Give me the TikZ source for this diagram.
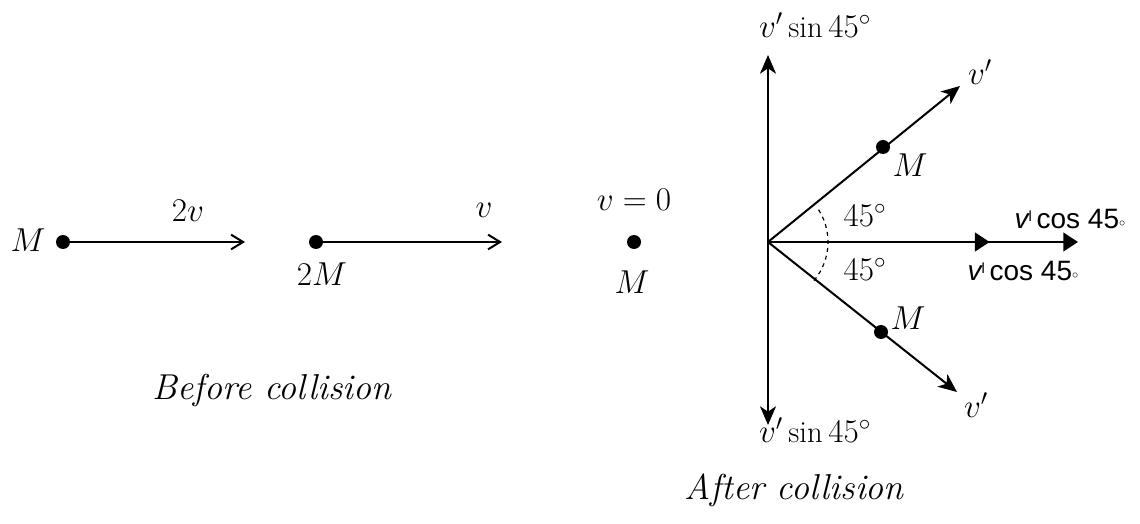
\documentclass[tikz,border=0pt]{standalone}
\usepackage{fontspec}
\newfontfamily\labsans{Liberation Sans}
\usetikzlibrary{arrows.meta,decorations.markings}
\tikzset{
  dot/.style={circle,fill=black,inner sep=0pt,minimum size=10.5pt},
  lbl/.style={inner sep=0pt,font=\fontsize{23}{27}\selectfont},
  slab/.style={inner sep=0pt,font=\labsans\fontsize{21}{25}\selectfont},
  captxt/.style={inner sep=0pt,font=\fontsize{27}{32}\selectfont\itshape},
  vec/.style={line width=1.5pt,-{Straight Barb[length=9pt,width=11pt,line width=1.5pt]}},
  rvec/.style={line width=1.5pt,-{Stealth[length=14pt,width=12pt,inset=4pt]}},
  bvec/.style={line width=1.5pt,{Stealth[length=14pt,width=12pt,inset=4pt]}-{Stealth[length=14pt,width=12pt,inset=4pt]}},
}
\newcommand{\vcos}{{\itshape v}\raisebox{0.5ex}{\fontsize{11}{11}\selectfont l}\,cos 45\raisebox{0.15ex}{\fontsize{9}{9}\selectfont$\circ$}}
\begin{document}
\begin{tikzpicture}[x=0.75pt,y=-0.75pt]
\useasboundingbox (0,0) rectangle (1140,524);
% before collision
\node[dot] (m1) at (63,242) {};
\coordinate (a1) at (245,242);
\draw[vec] (m1.center) -- (a1);
\node[lbl] (m1l) at (28,240) {$M$};
\node[lbl] (v1l) at (188,211) {$2v$};
\node[dot] (m2) at (316,242) {};
\coordinate (a2) at (502,242);
\draw[vec] (m2.center) -- (a2);
\node[lbl] (m2l) at (322,274) {$2M$};
\node[lbl] (v2l) at (484,210) {$v$};
\node[dot] (m3) at (634,242) {};
\node[lbl] (v3l) at (634,200) {$v=0$};
\node[lbl] (m3l) at (632,282) {$M$};
\node[captxt] (bc) at (272,390) {Before collision};
% after collision
\coordinate (o) at (768,242);
\coordinate (top) at (768,55);
\coordinate (bot) at (768,425);
\draw[bvec] (top) -- (bot);
\node[lbl] (st) at (815,25) {$v'\sin 45^\circ$};
\node[lbl] (sb) at (815,430) {$v'\sin 45^\circ$};
\coordinate (ut) at (960,86);
\coordinate (lt) at (957,392);
\draw[rvec] (o) -- (ut);
\draw[rvec] (o) -- (lt);
\node[dot] (mu) at (883,147) {};
\node[dot] (md) at (881,332) {};
\node[lbl] (mul) at (910,165) {$M$};
\node[lbl] (mdl) at (908,318) {$M$};
\node[lbl] (vul) at (980,72) {$v'$};
\node[lbl] (vdl) at (976,405) {$v'$};
\coordinate (he) at (1078,242);
\draw[line width=1.5pt,
  postaction={decorate,decoration={markings,mark=at position 0.715 with {\arrow{Triangle[length=11pt,width=14pt]}}}},
  -{Triangle[length=11pt,width=14pt]}] (o) -- (he);
\draw[dashed,line width=0.9pt] (o) ++(40:60) arc[start angle=40,end angle=-36,radius=60];
\node[lbl] (a45u) at (865,215) {$45^\circ$};
\node[lbl] (a45d) at (865,269) {$45^\circ$};
\node[slab] (cu) at (1070,219) {\vcos};
\node[slab] (cd) at (1023,271) {\vcos};
\node[captxt] (ac) at (794,490) {After collision};
\end{tikzpicture}
\end{document}
